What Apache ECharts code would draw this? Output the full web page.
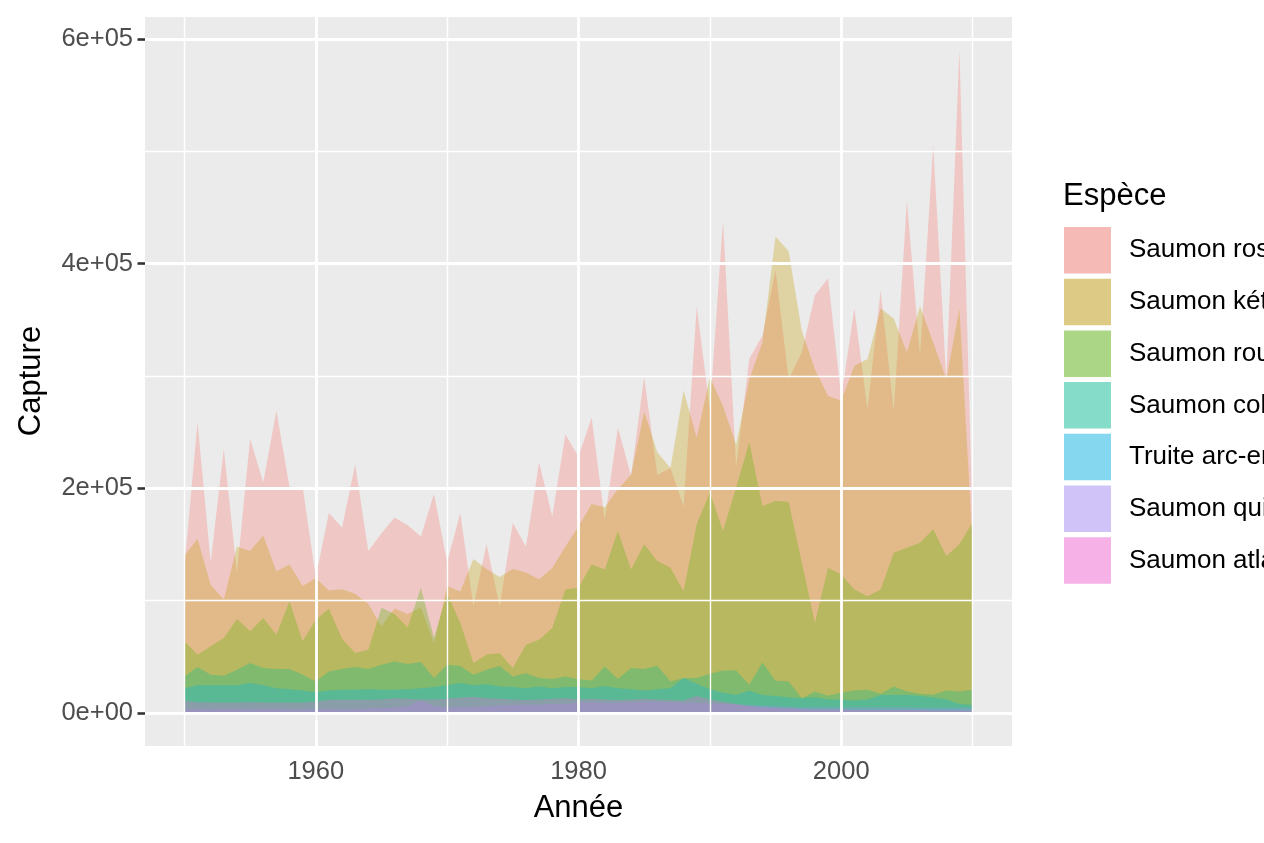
<!DOCTYPE html>
<html><head><meta charset="utf-8">
<script src="https://cdn.jsdelivr.net/npm/echarts@6/dist/echarts.min.js"></script>
<style>html,body{margin:0;padding:0;background:#fff}#c{width:1264px;height:843px}</style>
</head><body><div id="c"></div>
<script>
const years = [1950,1951,1952,1953,1954,1955,1956,1957,1958,1959,1960,1961,1962,1963,1964,1965,1966,1967,1968,1969,1970,1971,1972,1973,1974,1975,1976,1977,1978,1979,1980,1981,1982,1983,1984,1985,1986,1987,1988,1989,1990,1991,1992,1993,1994,1995,1996,1997,1998,1999,2000,2001,2002,2003,2004,2005,2006,2007,2008,2009,2010];
const especes = ['Saumon rose','Saumon kéta','Saumon rouge','Saumon coho','Truite arc-en-ciel','Saumon quinnat','Saumon atlantique'];
const saumonRose = [130000,259000,134000,235000,125000,244000,205000,269000,201000,201000,
 121000,178000,165000,221000,144000,160000,174000,167000,157000,195000,
 134000,178000,95000,150000,95000,169000,148000,223000,175000,248000,
 228000,263000,172000,254000,211000,299000,212000,218000,184000,362000,
 270000,438000,219000,315000,336000,394000,297000,321000,372000,387000,
 281000,360000,270000,376000,269000,456000,318000,505000,297000,590000,
 172000];
const saumonKeta = [140000,155000,114000,101000,148000,144000,158000,126000,132000,113000,
 120000,109000,110000,106000,97000,77000,93000,88000,94000,62000,
 113000,108000,137000,128000,121000,128000,125000,119000,129000,148000,
 166000,186000,183000,199000,212000,268000,232000,218000,287000,245000,
 299000,273000,239000,297000,330000,424000,411000,340000,306000,282000,
 278000,309000,315000,360000,351000,321000,362000,330000,297000,360000,
 150000];
const saumonRouge = [63700,51800,59200,66700,83600,72600,84500,69600,99400,63700,
 83000,92600,66000,53300,56200,93500,88000,76000,111300,66700,
 106000,80000,44500,52000,53000,39900,60700,65200,75600,109800,
 111300,132100,127700,161900,127700,150000,135100,129200,108300,167900,
 196200,161900,200600,240800,184200,188700,188000,133600,80100,129200,
 123200,109800,103800,109800,142600,147000,151500,163400,139600,150000,
 169400];
const saumonCoho = [32400,40800,33900,33000,38400,44400,39900,39000,39000,33900,
 27900,36900,39000,40800,39000,42900,45800,43500,45300,31000,
 42900,41700,33900,38400,41700,32400,35200,31000,30100,32400,
 30000,28900,41300,30100,39900,39000,42000,28000,31000,31000,
 34800,37800,37800,25000,44900,28600,28000,13100,19000,15200,
 18100,19900,20500,17000,23500,19000,17000,16100,19900,19000,
 20500];
const truiteArcEnCiel = [22000,24500,24500,24500,24500,26500,24500,22000,21000,20000,
 18600,20000,20500,20500,21000,20500,20500,21000,22000,23000,
 24500,26500,24500,25500,23500,23000,22000,23500,22000,23000,
 23000,22000,24000,22000,21000,20000,21000,22000,31000,26000,
 21000,18000,16000,20000,16000,15000,14000,13000,14000,12000,
 12000,11000,12000,16000,16000,16000,15000,14000,12000,8000,
 7000];
const saumonQuinnat = [3500,3500,3000,3500,3500,3000,3500,3500,3000,3000,
 3500,3500,3000,3500,4000,4000,4500,6000,11000,6000,
 4500,5000,5500,6000,6500,7000,7500,7500,8000,8000,
 9000,9500,9000,9000,9500,10000,10000,9500,9000,9000,
 8500,8000,7500,7000,6500,6000,5500,5000,5000,5000,
 5000,5000,5000,5000,5000,5000,4500,4500,4500,4500,
 4500];
const saumonAtlantique = [11000,9500,9200,9200,9200,9500,9200,9200,9200,9200,
 10000,11600,11600,11600,11600,12000,13000,12500,12000,12000,
 12500,13700,14300,13000,12500,12000,11500,12000,12500,13000,
 12000,12500,12000,11500,12000,12500,12000,11500,11000,15000,
 12000,10000,8000,6000,5000,4500,4000,3500,3000,3000,
 3000,2500,2500,2500,2500,2500,2500,2000,2000,2000,
 2000];
const xTicks = [1960,1980,2000];
const xTickLabels = ['1960','1980','2000'];
const xMinor = [1950,1970,1990,2010];
const yTicks = [0,200000,400000,600000];
const yTickLabels = ['0e+00','2e+05','4e+05','6e+05'];
const yMinor = [100000,300000,500000];

const allSeries = [saumonRose,saumonKeta,saumonRouge,saumonCoho,truiteArcEnCiel,saumonQuinnat,saumonAtlantique];
const colors = ['#F8766D','#C49A00','#53B400','#00C094','#00B6EB','#A58AFF','#FB61D7'];
const AREA_ALPHA = 0.3, KEY_ALPHA = 0.45;
function blend(hex, a, bg){
  const r=parseInt(hex.slice(1,3),16), g=parseInt(hex.slice(3,5),16), b=parseInt(hex.slice(5,7),16);
  const f=(c)=>Math.round(c*a+bg*(1-a));
  return 'rgb('+f(r)+','+f(g)+','+f(b)+')';
}
const FONT = '"Liberation Sans", Arial, Helvetica, sans-serif';

const series = allSeries.map((vals,i)=>({
  name: especes[i], type:'line', z:3,
  data: years.map((y,k)=>[y, vals[k]]),
  showSymbol:false, symbol:'none',
  lineStyle:{width:0, opacity:0},
  itemStyle:{color: colors[i]},
  areaStyle:{color: colors[i], opacity: AREA_ALPHA, origin:'auto'},
  silent:true
}));
const gridLine = (w)=>({color:'#FFFFFF', width:w, type:'solid'});
series.unshift({
  name:'_grid', type:'line', z:1, data:[], silent:true, symbol:'none',
  markLine:{
    silent:true, symbol:['none','none'], animation:false, label:{show:false},
    data: [
      ...xMinor.map(v=>({xAxis:v, lineStyle:gridLine(1.4)})),
      ...yMinor.map(v=>({yAxis:v, lineStyle:gridLine(1.4)})),
      ...xTicks.map(v=>({xAxis:v, lineStyle:gridLine(2.8)})),
      ...yTicks.map(v=>({yAxis:v, lineStyle:gridLine(2.8)}))
    ]
  }
});

const chart = echarts.init(document.getElementById('c'), null, {renderer:'canvas'});
chart.setOption({
  animation:false,
  backgroundColor:'#FFFFFF',
  grid:{left:145, right:252, top:17, bottom:97, show:true, backgroundColor:'#EBEBEB', borderWidth:0, containLabel:false},
  xAxis:{type:'value', min:1947, max:2013,
    axisLine:{show:false}, splitLine:{show:false},
    axisTick:{show:true, length:7.5, lineStyle:{color:'#333333', width:2.6}, customValues:xTicks},
    axisLabel:{show:true, customValues:xTicks, margin:13, color:'#4D4D4D', fontSize:25.5, fontFamily:FONT,
      formatter:(v)=>{const i=xTicks.indexOf(v); return i>=0?xTickLabels[i]:'';}}
  },
  yAxis:{type:'value', min:-29500, max:619500,
    axisLine:{show:false}, splitLine:{show:false},
    axisTick:{show:true, length:7.5, lineStyle:{color:'#333333', width:2.6}, customValues:yTicks},
    axisLabel:{show:true, customValues:yTicks, margin:12, color:'#4D4D4D', fontSize:25.5, fontFamily:FONT,
      formatter:(v)=>{const i=yTicks.indexOf(v); return i>=0?yTickLabels[i]:'';}}
  },
  legend:{
    orient:'vertical', left:1064, top:227, padding:0,
    itemWidth:47, itemHeight:46.5, itemGap:5.2, selectedMode:false,
    textStyle:{fontSize:26, color:'#000000', fontFamily:FONT, padding:[0,0,0,13]},
    data: especes.map((n,i)=>({name:n, icon:'rect', itemStyle:{color: blend(colors[i], KEY_ALPHA, 242), opacity:1}}))
  },
  graphic:[
    {type:'text', left:1063, top:181, style:{text:'Espèce', fontSize:31, fontFamily:FONT, fill:'#000000'}},
    {type:'text', x:578.5, y:808, style:{text:'Année', fontSize:31, fontFamily:FONT, fill:'#000000', align:'center', verticalAlign:'middle'}},
    {type:'text', x:31, y:381, rotation:Math.PI/2, style:{text:'Capture', fontSize:31, fontFamily:FONT, fill:'#000000', align:'center', verticalAlign:'middle'}}
  ],
  series: series
});
</script>
</body></html>
